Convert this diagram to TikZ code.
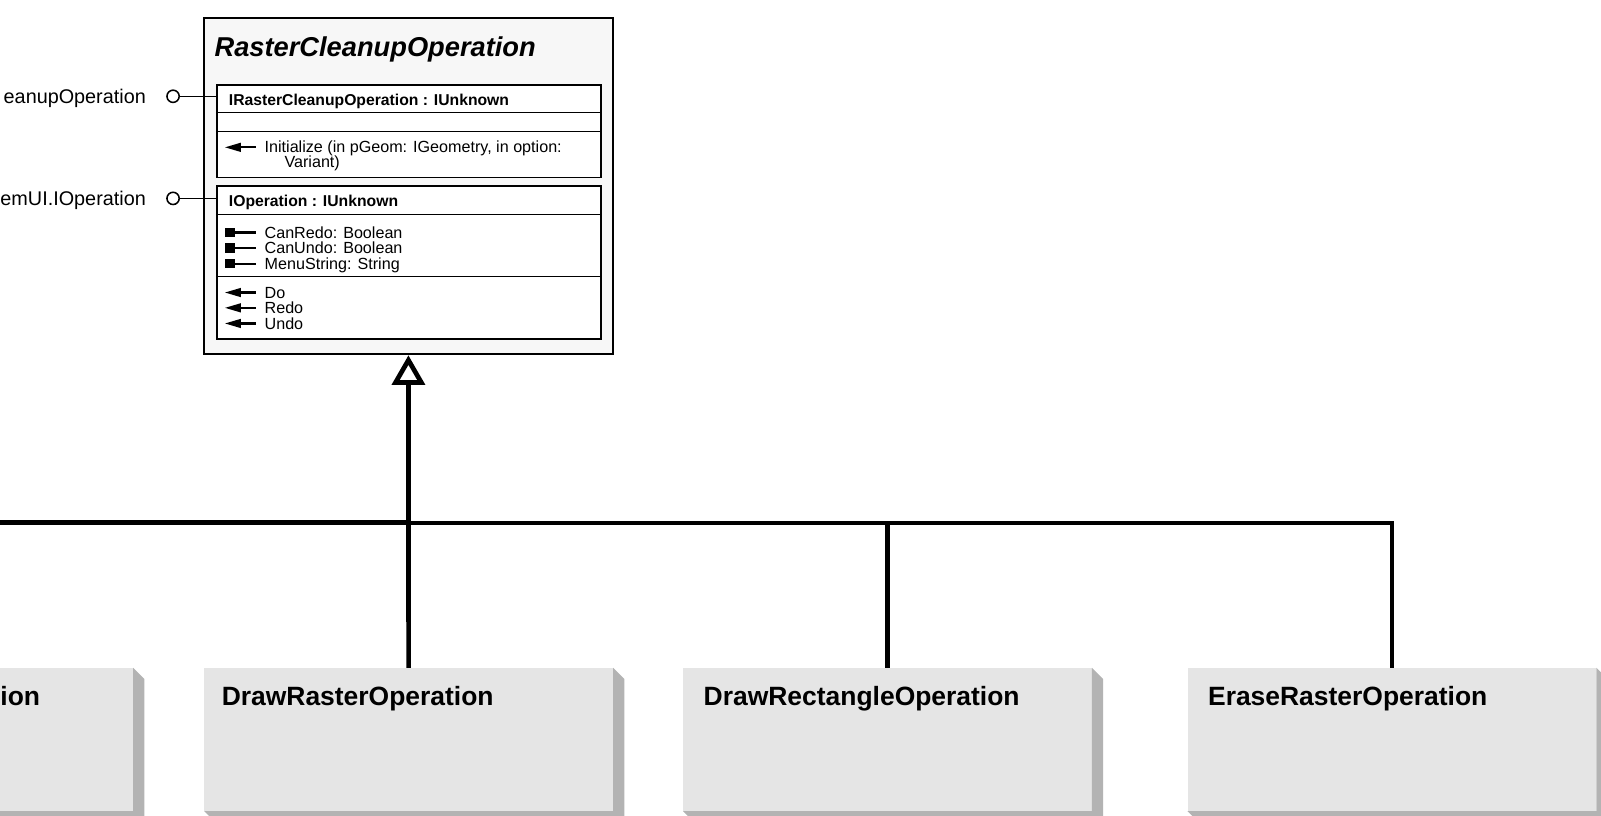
\documentclass[tikz,border=0pt]{standalone}
\usepackage{fontspec}
\setmainfont{Liberation Sans}
\usetikzlibrary{arrows.meta}
\definecolor{mainfill}{HTML}{F7F7F7}
\definecolor{facefill}{HTML}{E5E5E5}
\definecolor{bevelfill}{HTML}{B3B3B3}
\tikzset{
  mainbox/.style={draw, line width=1.9pt, fill=mainfill, inner sep=0pt},
  ifbox/.style={draw, line width=1.6pt, fill=white, inner sep=0pt, anchor=north west, minimum width=376.2pt},
  sepline/.style={line width=1.5pt},
  clsface/.style={fill=facefill, inner sep=0pt, minimum width=400pt, minimum height=140pt, anchor=north west},
  clsname/.style={anchor=base west, inner sep=0pt, font=\fontsize{25.9}{29}\selectfont\bfseries},
  itemtext/.style={anchor=base west, inner sep=0pt, font=\fontsize{15.8}{16}\selectfont},
  hdrtext/.style={anchor=base west, inner sep=0pt, font=\fontsize{15.4}{17}\selectfont\bfseries},
  lolli/.style={circle, draw, line width=1.5pt, fill=white, minimum size=12pt, inner sep=0pt},
  lolline/.style={line width=1.5pt},
  extlabel/.style={anchor=base east, inner sep=0pt, font=\fontsize{19.4}{22}\selectfont},
  genline/.style={line width=4.6pt},
  genthin/.style={line width=4pt},
}
\newcommand{\opicon}[1]{\fill (220.5,#1) -- (236,#1-4.6) -- (236,#1+4.6) -- cycle;
  \draw[line width=2.2pt] (234,#1) -- (250.5,#1);}
\newcommand{\propicon}[1]{\fill (220.5,#1-4.6) rectangle (230.5,#1+4.6);
  \draw[line width=2.2pt] (229,#1) -- (250.5,#1);}
\begin{document}
\begin{tikzpicture}[x=1pt,y=-1pt]
\useasboundingbox (0,0) rectangle (1568,799);
\clip (0,0) rectangle (1568,799);

% main abstract class
\node[mainbox, minimum width=400pt, minimum height=329pt] (main) at (400,182.5) {};
\node[anchor=base west, inner sep=0pt, font=\fontsize{26.7}{30}\selectfont\bfseries\itshape] (title) at (210,55) {RasterCleanupOperation};

% interface 1
\node[ifbox, minimum height=90.7pt] (i1) at (211.5,82.3) {};
\draw[sepline] ([yshift=-28.1pt]i1.north west) -- ([yshift=-28.1pt]i1.north east);
\draw[sepline] ([yshift=-46.7pt]i1.north west) -- ([yshift=-46.7pt]i1.north east);
\node[hdrtext] (i1h) at (224,103) {IRasterCleanupOperation : IUnknown};
\opicon{144.3}
\node[itemtext] (i1m1) at (259,149.8) {Initialize (in pGeom: IGeometry, in option:};
\node[itemtext] (i1m1b) at (278.5,164.3) {Variant)};

% interface 2
\node[ifbox, minimum height=150.2pt] (i2) at (211.5,181.2) {};
\draw[sepline] ([yshift=-28.8pt]i2.north west) -- ([yshift=-28.8pt]i2.north east);
\draw[sepline] ([yshift=-89.8pt]i2.north west) -- ([yshift=-89.8pt]i2.north east);
\node[hdrtext] (i2h) at (224,202.5) {IOperation : IUnknown};
\propicon{227.8}
\propicon{242.8}
\propicon{258.3}
\node[itemtext] (p1) at (259,233.5) {CanRedo: Boolean};
\node[itemtext] (p2) at (259,248.5) {CanUndo: Boolean};
\node[itemtext] (p3) at (259,264) {MenuString: String};
\opicon{286.5}
\opicon{301.5}
\opicon{316.8}
\node[itemtext] (m1) at (259,292.2) {Do};
\node[itemtext] (m2) at (259,307.2) {Redo};
\node[itemtext] (m3) at (259,322.5) {Undo};

% lollipops
\node[lolli] (l1) at (169.5,94.3) {};
\draw[lolline] (l1) -- (l1 -| i1.west);
\node[extlabel] (l1t) at (143,101.6) {eanupOperation};
\node[lolli] (l2) at (169.5,194.3) {};
\draw[lolline] (l2) -- (l2 -| i2.west);
\node[extlabel] (l2t) at (143,201.6) {emUI.IOperation};

% subclasses
\node[clsface] (boxA) at (-270,654) {};
\node[clsface] (drast) at (200,654) {};
\node[clsface] (drect) at (669,654) {};
\node[clsface] (erase) at (1163,654) {};
\foreach \b in {boxA,drast,drect,erase}{
  \fill[bevelfill] (\b.north east) -- ([shift={(11,11)}]\b.north east)
    -- ([shift={(11,11)}]\b.south east) -- ([shift={(11,11)}]\b.south west)
    -- (\b.south west) -- (\b.south east) -- cycle;
}
\node[clsname, anchor=base east] (boxAname) at (39.5,690.5) {ion};
\node[clsname] (drastname) at (217,690.5) {DrawRasterOperation};
\node[clsname] (drectname) at (689,690.5) {DrawRectangleOperation};
\node[clsname] (erasename) at (1183,690.5) {EraseRasterOperation};

% generalization tree
\coordinate (bar) at (400,512);
\draw[genthin] (erase.north) |- (bar);
\draw[genthin] (drect.north) |- (bar);
\draw[genline] (boxA.north) |- (bar);
\draw[genline, -{Triangle[open, length=29pt, width=32pt]}] (drast.north) -- (main.south);
\end{tikzpicture}
\end{document}
